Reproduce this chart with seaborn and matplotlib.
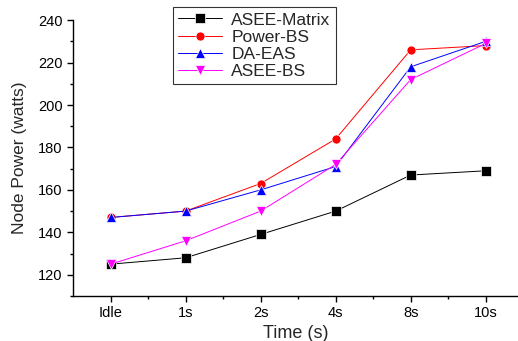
import pandas as pd
import numpy as np
import matplotlib
matplotlib.use('Agg')
import matplotlib.pyplot as plt
from matplotlib.ticker import MultipleLocator, FixedLocator
import seaborn as sns

sns.set_style('ticks')
plt.rcParams['font.family'] = ['Liberation Sans', 'DejaVu Sans']

# 데이터
times = ['Idle', '1s', '2s', '4s', '8s', '10s']
asee_matrix = [125, 128, 139, 150, 167, 169]
power_bs = [147, 150, 163, 184, 226, 228]
da_eas = [147, 150, 160, 171, 218, 230]
asee_bs = [125, 136, 150, 172, 212, 229]

methods = ['ASEE-Matrix', 'Power-BS', 'DA-EAS', 'ASEE-BS']
series = [asee_matrix, power_bs, da_eas, asee_bs]
colors = ['black', 'red', 'blue', 'magenta']
marker_map = ['s', 'o', '^', 'v']

rows = []
for m, vals in zip(methods, series):
    for i, v in enumerate(vals):
        rows.append({'pos': i, 'power': v, 'method': m})
df = pd.DataFrame(rows)

fig = plt.figure(figsize=(5.18, 3.41), dpi=100)
ax = fig.add_axes([0.141, 0.132, 0.859, 0.809])

sns.lineplot(data=df, x='pos', y='power', hue='method', style='method',
             hue_order=methods, style_order=methods,
             palette=dict(zip(methods, colors)),
             markers=dict(zip(methods, marker_map)), dashes=False,
             linewidth=0.7, markersize=6.5, markeredgewidth=0.5,
             ax=ax)

ax.set_xlim(-0.5, 5.43)
ax.set_ylim(110, 240)
ax.set_xticks(range(len(times)))
ax.set_xticklabels(times)
ax.xaxis.set_minor_locator(FixedLocator([0.5, 1.5, 2.5, 3.5, 4.5]))
ax.set_yticks([120, 140, 160, 180, 200, 220, 240])
ax.yaxis.set_minor_locator(MultipleLocator(10))

sns.despine(ax=ax)
for s in ['left', 'bottom']:
    ax.spines[s].set_linewidth(1.0)
    ax.spines[s].set_color('black')
ax.tick_params(axis='both', which='major', length=4, width=1, labelsize=10.5, colors='black')
ax.tick_params(axis='both', which='minor', length=2.5, width=1, colors='black')

ax.set_xlabel('Time (s)', fontsize=13, labelpad=3)
ax.set_ylabel('Node Power (watts)', fontsize=12.5, labelpad=8)

leg = ax.legend(loc='upper left', bbox_to_anchor=(0.225, 1.047), borderaxespad=0,
                fontsize=12.5, frameon=True, fancybox=False, labelspacing=0.12,
                handlelength=2.5, handletextpad=0.55, borderpad=0.3)
leg.get_frame().set_edgecolor('black')
leg.get_frame().set_linewidth(0.8)

fig.savefig('out.png', dpi=100, facecolor='white')
